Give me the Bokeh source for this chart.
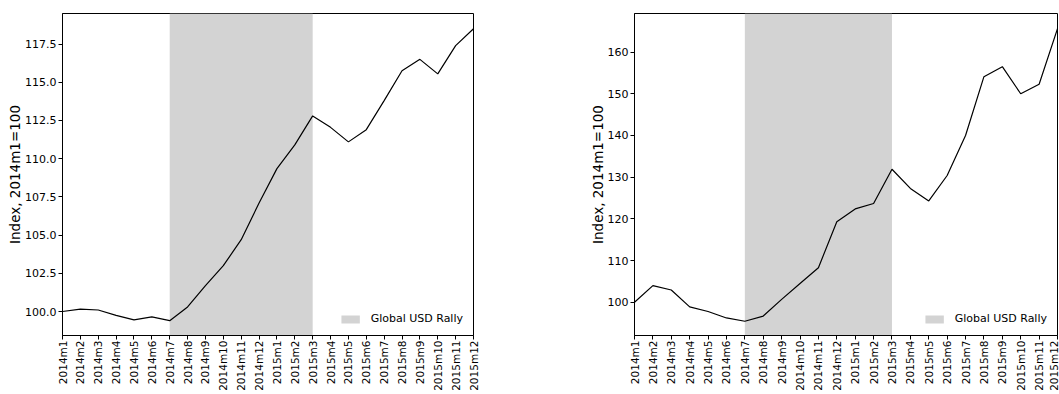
import math
from bokeh.plotting import figure
from bokeh.layouts import row
from bokeh.models import Range1d, FixedTicker, PrintfTickFormatter, Legend, LegendItem
from bokeh.embed import file_html
from bokeh.resources import INLINE

months = ["2014m1", "2014m2", "2014m3", "2014m4", "2014m5", "2014m6", "2014m7", "2014m8",
          "2014m9", "2014m10", "2014m11", "2014m12", "2015m1", "2015m2", "2015m3", "2015m4",
          "2015m5", "2015m6", "2015m7", "2015m8", "2015m9", "2015m10", "2015m11", "2015m12"]

left_values = [100.0, 100.15, 100.1, 99.75, 99.45, 99.65, 99.4, 100.3, 101.7, 103.0, 104.7,
               107.1, 109.35, 110.9, 112.8, 112.05, 111.1, 111.9, 113.8, 115.75, 116.5,
               115.55, 117.4, 118.5]
right_values = [100.0, 104.0, 102.95, 98.9, 97.8, 96.25, 95.45, 96.7, 100.7, 104.5, 108.3,
                119.3, 122.4, 123.7, 131.9, 127.3, 124.3, 130.4, 140.0, 154.1, 156.5,
                150.0, 152.3, 165.6]

rally_start = "2014m7"
rally_end = "2015m3"
rally_label = "Global USD Rally"
y_label = "Index, 2014m1=100"

left_yticks = [100.0, 102.5, 105.0, 107.5, 110.0, 112.5, 115.0, 117.5]
right_yticks = [100, 110, 120, 130, 140, 150, 160]

FONT = "DejaVu Sans"


def make_panel(values, yticks, yfmt, yrange, width, border_left, border_right, standoff):
    x = list(range(len(months)))
    p = figure(width=width, height=393, output_backend="svg", toolbar_location=None,
               x_range=Range1d(0, len(months) - 1), y_range=Range1d(*yrange),
               min_border_left=border_left, min_border_right=border_right,
               min_border_top=13, min_border_bottom=57)
    p.xgrid.visible = False
    p.ygrid.visible = False
    p.outline_line_color = "black"
    p.outline_line_alpha = 1.0
    p.outline_line_width = 1
    p.background_fill_color = "white"
    p.border_fill_color = "white"

    xs = months.index(rally_start)
    xe = months.index(rally_end)
    q = p.quad(left=[xs], right=[xe], bottom=[yrange[0]], top=[yrange[1]],
               fill_color="#d3d3d3", line_color=None)
    p.line(x, values, line_color="black", line_width=1.2)

    legend = Legend(items=[LegendItem(label=rally_label, renderers=[q])],
                    location="bottom_right", border_line_alpha=0,
                    background_fill_alpha=0, label_text_font=FONT,
                    label_text_font_size="11px", label_text_color="black",
                    glyph_width=23, glyph_height=10,
                    label_standoff=9, padding=4, margin=6)
    p.add_layout(legend, "center")

    xa = p.xaxis[0]
    xa.ticker = FixedTicker(ticks=x)
    xa.major_label_overrides = {i: m for i, m in enumerate(months)}
    xa.major_label_orientation = math.pi / 2
    xa.minor_tick_line_color = None
    xa.major_tick_in = 0
    xa.major_tick_out = 4
    xa.major_label_standoff = 1
    xa.major_label_text_font = FONT
    xa.major_label_text_font_size = "10.5px"
    xa.major_label_text_color = "black"
    xa.axis_line_color = "black"

    ya = p.yaxis[0]
    ya.ticker = FixedTicker(ticks=yticks)
    ya.formatter = PrintfTickFormatter(format=yfmt)
    ya.minor_tick_line_color = None
    ya.major_tick_in = 0
    ya.major_tick_out = 4
    ya.major_label_standoff = 2
    ya.major_label_text_font = FONT
    ya.major_label_text_font_size = "11px"
    ya.major_label_text_color = "black"
    ya.axis_line_color = "black"
    ya.axis_label = y_label
    ya.axis_label_text_font = FONT
    ya.axis_label_text_font_size = "13.5px"
    ya.axis_label_text_font_style = "normal"
    ya.axis_label_text_color = "black"
    ya.axis_label_standoff = standoff
    return p


p1 = make_panel(left_values, left_yticks, "%.1f", (98.43, 119.5), 488, 62, 15, -1)
p2 = make_panel(right_values, right_yticks, "%d", (92.04, 169.25), 571, 146, 2, -1)

layout = row(p1, p2, spacing=0)
open("out.html", "w").write(file_html(layout, INLINE))
